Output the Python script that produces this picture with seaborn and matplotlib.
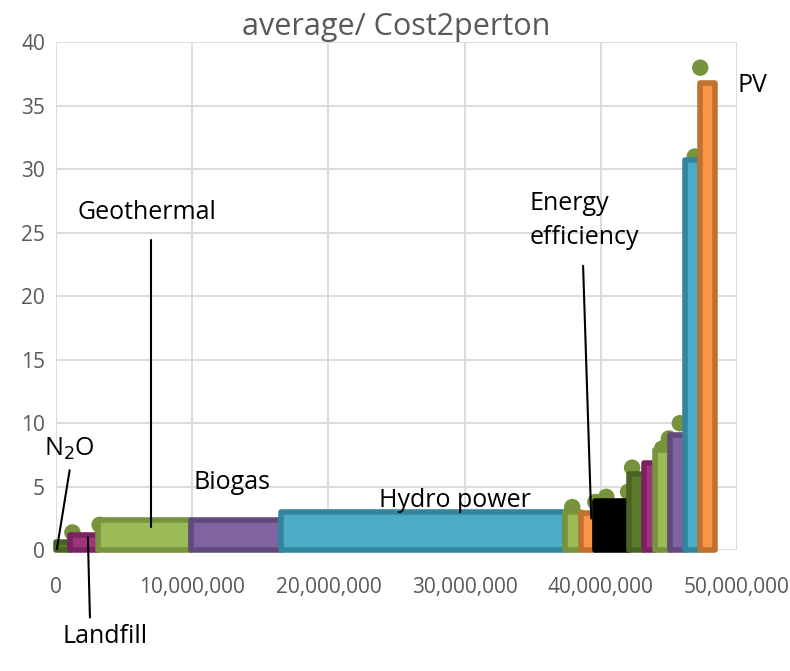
import numpy as np
import matplotlib
matplotlib.use("Agg")
import matplotlib.pyplot as plt
import seaborn as sns
from matplotlib.ticker import FuncFormatter

# widths of each option (tonnes) and average cost per tonne
widths = [1.0e6, 2.1e6, 6.8e6, 6.6e6, 20.9e6, 1.15e6, 1.05e6, 2.5e6, 1.1e6, 0.8e6, 1.1e6, 1.1e6, 1.1e6, 1.1e6]
costs = [0.65, 1.2, 2.35, 2.35, 3.0, 3.0, 2.9, 3.85, 6.0, 6.9, 7.9, 9.1, 30.7, 36.8]
fills = ["#5B7A2A", "#A0357E", "#9BBB59", "#8064A2", "#4BACC6", "#9BBB59", "#F79646",
         "#000000", "#5B7A2A", "#A0357E", "#9BBB59", "#8064A2", "#4BACC6", "#F79646"]
edges = ["#4A6322", "#7A2360", "#77933C", "#604A7B", "#31859C", "#77933C", "#C0712F",
         "#000000", "#4A6322", "#7A2360", "#77933C", "#604A7B", "#31859C", "#C0712F"]

# scatter points (average marker series)
dot_x = [1.2e6, 3.2e6, 37.9e6, 39.6e6, 40.4e6, 42.0e6, 42.3e6, 44.5e6, 45.0e6, 45.8e6, 46.9e6, 47.3e6]
dot_y = [1.4, 2.0, 3.4, 3.8, 4.2, 4.6, 6.5, 8.0, 8.8, 10.0, 31.0, 38.0]

sns.set_theme(style="whitegrid")
plt.rcParams["font.family"] = ["Open Sans", "DejaVu Sans"]

fig = plt.figure(figsize=(7.9, 6.71), dpi=100)
ax = fig.add_axes([0.0709, 0.180, 0.862, 0.757])

lefts = np.concatenate([[0], np.cumsum(widths)[:-1]])
ax.bar(lefts, costs, width=widths, align="edge", color=fills, edgecolor=edges,
       linewidth=4, joinstyle="round", zorder=3, clip_on=False)
sns.scatterplot(x=dot_x, y=dot_y, color="#77933C", s=140, edgecolor="none", zorder=2, ax=ax)

ax.set_xlim(0, 50e6)
ax.set_ylim(0, 40)
ax.set_xticks(np.arange(0, 50e6 + 1, 10e6))
ax.set_yticks(np.arange(0, 41, 5))
ax.xaxis.set_major_formatter(FuncFormatter(lambda v, p: "{:,.0f}".format(v)))
ax.tick_params(axis="x", labelsize=15, colors="#595959", pad=19, length=0)
ax.tick_params(axis="y", labelsize=15, colors="#595959", pad=8, length=0)
ax.grid(True, color="#d9d9d9", linewidth=1.3)
ax.set_axisbelow(True)
for s in ax.spines.values():
    s.set_visible(False)
ax.set_title("average/ Cost2perton", fontsize=22, color="#595959", pad=5)

# annotations
kw = dict(fontsize=18, color="black", va="center")
ax.text(1.0e6, 8.0, "N$_2$O", ha="center", **kw)
ax.plot([1.0e6, 0.05e6], [6.3, 0.0], color="black", lw=1.5, zorder=4)
ax.text(6.7e6, 26.6, "Geothermal", ha="center", **kw)
ax.plot([6.95e6, 6.95e6], [24.4, 1.8], color="black", lw=1.5, zorder=4)
ax.text(12.95e6, 5.35, "Biogas", ha="center", **kw)
ax.text(29.3e6, 3.95, "Hydro power", ha="center", zorder=5, **kw)
ax.text(34.8e6, 27.3, "Energy", ha="left", **kw)
ax.text(34.8e6, 24.6, "efficiency", ha="left", **kw)
ax.plot([38.7e6, 39.3e6], [22.4, 2.5], color="black", lw=1.5, zorder=4)
ax.text(51.1e6, 36.6, "PV", ha="center", clip_on=False, **kw)
ax.text(3.6e6, -6.8, "Landfill", ha="center", clip_on=False, **kw)
ax.plot([2.34e6, 2.49e6], [1.0, -5.3], color="black", lw=1.5, zorder=4, clip_on=False)

fig.savefig("out.png", dpi=100)
